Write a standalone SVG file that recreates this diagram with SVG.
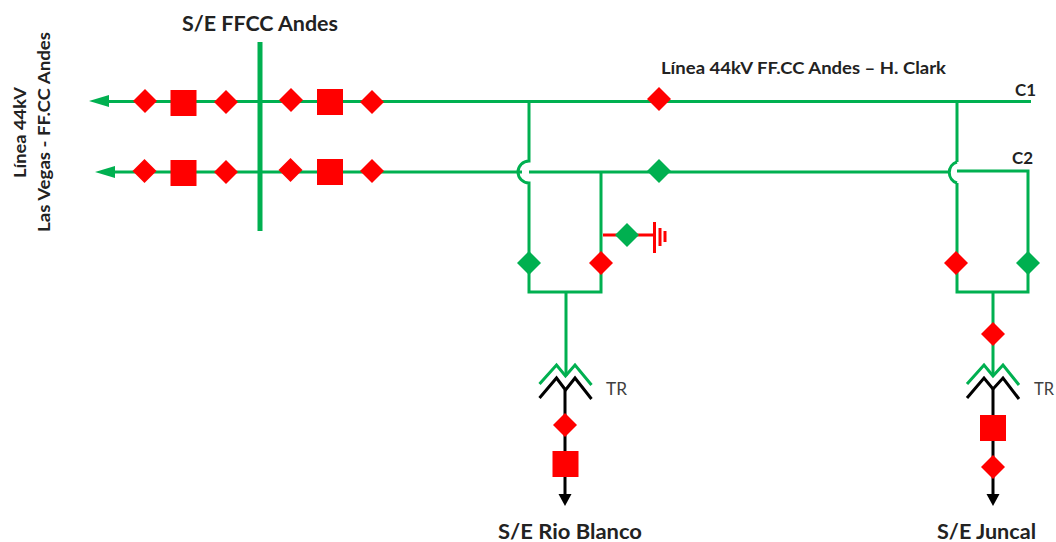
<svg xmlns="http://www.w3.org/2000/svg" width="1056" height="542" viewBox="0 0 1056 542">
<style>
text{font-family:Lato,"Open Sans","Liberation Sans",sans-serif;font-weight:700;fill:#222}
.h{font-size:21px}
.s{font-size:17px}
.tr{font-weight:400;font-size:17px;fill:#404040}
.g{fill:none;stroke:#00b050;stroke-width:3}
.k{fill:none;stroke:#000;stroke-width:3}
.r{fill:none;stroke:#f00;stroke-width:3}
.dr{fill:#f00}
.dg{fill:#00b050}
</style>
<defs>
<polygon id="dm" points="0,-12 12,0 0,12 -12,0"/>
<rect id="sq" x="-13" y="-13" width="26" height="26"/>
</defs>
<rect width="1056" height="542" fill="#fff"/>
<g id="connectors">
<path class="g" d="M105 101.500H1031"/>
<path class="g" d="M110 172H522M529 172H948M957 171H1028V292H957V183M957 162V102"/>
<path class="g" d="M529 102V161A11 11 0 0 0 529 183V292H601V172"/>
<path class="g" d="M957 162A11 11 0 0 0 957 183"/>
<path class="g" d="M566 292V376M993 292V376"/>
<path class="g" d="M539.500 384L556.500 365L565.500 376L575 365L591.500 385"/>
<path class="g" d="M967 384L984 365L993 376L1003 365L1019 385"/>
<path class="k" d="M539.500 398L556.500 378L565.500 390L575 378L591.500 399"/>
<path class="k" d="M967 398L984 378L993 389L1003 378L1019 399"/>
<path class="k" d="M565 390V496M993 389V496"/>
<path class="r" d="M603 235H654"/>
<path class="r" d="M654.500 222V253M660 228V246"/>
<path class="r" stroke-width="2" d="M665 231V242"/>
<polygon class="dg" points="89,101 109,95 109,107"/>
<polygon class="dg" points="95,172 115,166 115,178"/>
<polygon points="558.500,494 571.500,494 565,506"/>
<polygon points="986.500,494 999.500,494 993,506"/>
</g>
<g id="bus-ffcc-andes"><rect class="dg" x="257.500" y="42" width="5" height="189"/><text class="h" x="182" y="31" textLength="156" lengthAdjust="spacingAndGlyphs">S/E FFCC Andes</text></g>
<g id="c1-left"><use href="#dm" class="dr" x="145" y="101"/><use href="#sq" class="dr" x="183.500" y="103"/><use href="#dm" class="dr" x="226" y="102"/><use href="#dm" class="dr" x="291" y="100"/><use href="#sq" class="dr" x="330" y="102"/><use href="#dm" class="dr" x="372" y="102"/></g>
<g id="c2-left"><use href="#dm" class="dr" x="144.500" y="171"/><use href="#sq" class="dr" x="183.500" y="173"/><use href="#dm" class="dr" x="226" y="172"/><use href="#dm" class="dr" x="290.500" y="170"/><use href="#sq" class="dr" x="330" y="172"/><use href="#dm" class="dr" x="372" y="171"/></g>
<g id="line-c1"><use href="#dm" class="dr" x="659" y="99"/></g>
<g id="line-c2"><use href="#dm" class="dg" x="659" y="171"/></g>
<g id="rio-blanco-disconnectors"><use href="#dm" class="dg" x="529" y="263"/><use href="#dm" class="dr" x="601" y="263"/><use href="#dm" class="dg" x="627" y="235"/></g>
<g id="juncal-disconnectors"><use href="#dm" class="dr" x="956" y="263"/><use href="#dm" class="dg" x="1028" y="263"/><use href="#dm" class="dr" x="993" y="334"/></g>
<g id="rio-blanco-feeder"><use href="#dm" class="dr" x="565" y="425"/><use href="#sq" class="dr" x="565.500" y="464"/></g>
<g id="juncal-feeder"><use href="#sq" class="dr" x="993" y="428"/><use href="#dm" class="dr" x="993" y="467"/></g>
<g id="labels">
<text class="s" transform="translate(26,178) rotate(-90)" textLength="91" lengthAdjust="spacingAndGlyphs">Línea 44kV</text>
<text class="s" transform="translate(50,232) rotate(-90)" textLength="200" lengthAdjust="spacingAndGlyphs">Las Vegas - FF.CC Andes</text>
<text class="s" x="661" y="74" textLength="285" lengthAdjust="spacingAndGlyphs">Línea 44kV FF.CC Andes – H. Clark</text>
<text class="s" x="1015" y="96" textLength="21" lengthAdjust="spacingAndGlyphs">C1</text>
<text class="s" x="1012" y="164" textLength="21" lengthAdjust="spacingAndGlyphs">C2</text>
<text class="tr" x="606" y="395" textLength="21" lengthAdjust="spacingAndGlyphs">TR</text>
<text class="tr" x="1034" y="395" textLength="20" lengthAdjust="spacingAndGlyphs">TR</text>
<text class="h" x="498" y="539" textLength="144" lengthAdjust="spacingAndGlyphs">S/E Rio Blanco</text>
<text class="h" x="937" y="539" textLength="99" lengthAdjust="spacingAndGlyphs">S/E Juncal</text>
</g>
</svg>
